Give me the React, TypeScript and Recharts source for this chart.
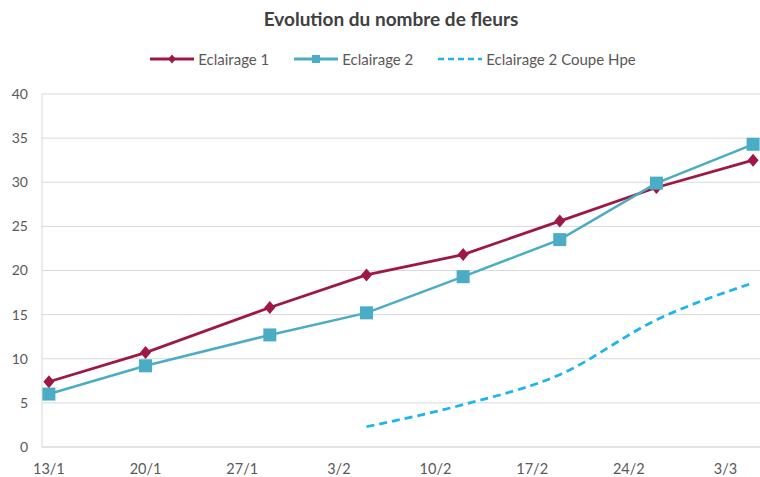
import React from 'react'
import { CartesianGrid, Legend, Line, LineChart, XAxis, YAxis } from 'recharts'

// sampling dates (d/m) and the weekly axis labels
const sampleDates = ['13/1', '20/1', '29/1', '5/2', '12/2', '19/2', '26/2', '5/3']
const tickLabels = ['13/1', '20/1', '27/1', '3/2', '10/2', '17/2', '24/2', '3/3']

const eclairage1 = [7.4, 10.7, 15.8, 19.5, 21.8, 25.6, 29.4, 32.5]
const eclairage2 = [6.0, 9.2, 12.7, 15.2, 19.3, 23.5, 29.9, 34.3]
const eclairage2Coupe = [null, null, null, 2.3, 4.8, 8.2, 14.4, 18.6]

const yTicks = [0, 5, 10, 15, 20, 25, 30, 35, 40]

const RED = '#9E1845'
const TEAL = '#4BACC6'
const BLUE = '#1DB4EF'
const GRID = '#D9D9D9'
const TEXT = '#595959'
const FONT = 'Lato, "Open Sans", sans-serif'

// days since 13/1 (february has 28 days)
const toDay = (s: string) => {
  const [d, m] = s.split('/').map(Number)
  if (m === 1) return d - 13
  if (m === 2) return d + 18
  return d + 46
}

const chartData = sampleDates.map((s, i) => ({
  day: toDay(s),
  e1: eclairage1[i],
  e2: eclairage2[i],
  e3: eclairage2Coupe[i],
}))

const tickDays = tickLabels.map(toDay)
const labelOf = (v: number) => tickLabels[tickDays.indexOf(v)] ?? ''

const Diamond = ({ cx, cy, size = 6.5 }: { cx?: number; cy?: number; size?: number }) => {
  if (cx == null || cy == null) return null
  const w = size * 0.85
  return (
    <polygon
      points={`${cx},${cy - size} ${cx + w},${cy} ${cx},${cy + size} ${cx - w},${cy}`}
      fill={RED}
    />
  )
}

const Square = ({ cx, cy, size = 13 }: { cx?: number; cy?: number; size?: number }) => {
  if (cx == null || cy == null) return null
  return <rect x={cx - size / 2} y={cy - size / 2} width={size} height={size} fill={TEAL} />
}

const legendItems = [
  { name: 'Eclairage 1', color: RED, kind: 'diamond' },
  { name: 'Eclairage 2', color: TEAL, kind: 'square' },
  { name: 'Eclairage 2 Coupe Hpe', color: BLUE, kind: 'dash' },
]

const renderLegend = () => (
  <div
    style={{
      display: 'flex',
      justifyContent: 'center',
      paddingLeft: 26,
      gap: 25,
      fontFamily: FONT,
      fontSize: 15,
      color: TEXT,
    }}
  >
    {legendItems.map((it) => (
      <div key={it.name} style={{ display: 'flex', alignItems: 'center', gap: 4 }}>
        <svg width={44} height={12}>
          <line
            x1={0}
            y1={6}
            x2={44}
            y2={6}
            stroke={it.color}
            strokeWidth={it.kind === 'dash' ? 2.5 : 3}
            strokeDasharray={it.kind === 'dash' ? '6 4' : undefined}
          />
          {it.kind === 'diamond' && <Diamond cx={22} cy={6} size={4.5} />}
          {it.kind === 'square' && <Square cx={22} cy={6} size={8} />}
        </svg>
        <span>{it.name}</span>
      </div>
    ))}
  </div>
)

export default function App() {
  return (
    <div style={{ position: 'absolute', left: 0, top: 0, width: 760, height: 477, background: '#fff' }}>
      <div
        style={{
          position: 'absolute',
          top: 7,
          left: 0,
          width: 760,
          paddingLeft: 22,
          boxSizing: 'border-box',
          textAlign: 'center',
          fontFamily: FONT,
          fontWeight: 700,
          fontSize: 19,
          color: '#404040',
        }}
      >
        Evolution du nombre de fleurs
      </div>
      <LineChart
        width={760}
        height={477}
        data={chartData}
        margin={{ top: 50, right: 0, bottom: 0, left: 0 }}
      >
        <CartesianGrid vertical={false} stroke={GRID} strokeWidth={1} />
        <XAxis
          dataKey="day"
          type="number"
          domain={[-0.5, 51.5]}
          ticks={tickDays}
          tickFormatter={labelOf}
          interval={0}
          height={30}
          axisLine={{ stroke: GRID }}
          tickLine={false}
          tickMargin={11}
          tick={{ fill: TEXT, fontSize: 14.5, fontFamily: FONT }}
          allowDataOverflow
        />
        <YAxis
          domain={[0, 40]}
          ticks={yTicks}
          width={42}
          axisLine={{ stroke: GRID }}
          tickLine={false}
          tickMargin={8}
          tick={{ fill: TEXT, fontSize: 14, fontFamily: FONT }}
        />
        <Legend verticalAlign="top" align="center" height={44} content={renderLegend} />
        <Line
          dataKey="e1"
          name="Eclairage 1"
          type="linear"
          stroke={RED}
          strokeWidth={2.75}
          dot={<Diamond />}
          activeDot={false}
          isAnimationActive={false}
        />
        <Line
          dataKey="e2"
          name="Eclairage 2"
          type="linear"
          stroke={TEAL}
          strokeWidth={2.5}
          dot={<Square />}
          activeDot={false}
          isAnimationActive={false}
        />
        <Line
          dataKey="e3"
          name="Eclairage 2 Coupe Hpe"
          type="monotone"
          stroke={BLUE}
          strokeWidth={2.75}
          strokeDasharray="8 5"
          dot={false}
          activeDot={false}
          connectNulls={false}
          isAnimationActive={false}
        />
      </LineChart>
    </div>
  )
}
